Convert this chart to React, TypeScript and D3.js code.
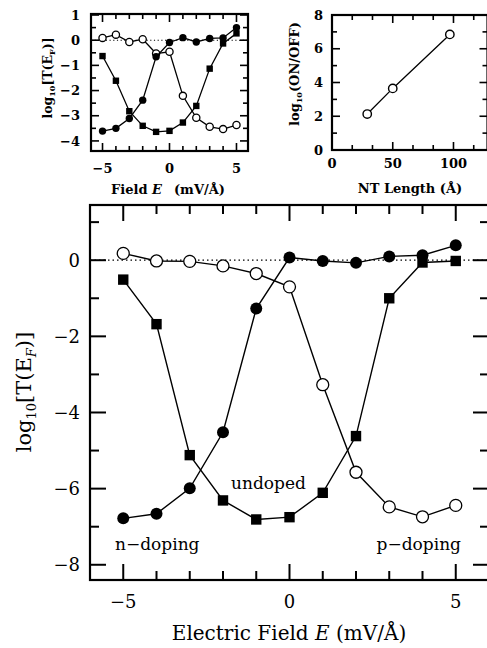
import React from 'react';
import * as d3 from 'd3';

// ---------- data ----------
const fieldE = [-5, -4, -3, -2, -1, 0, 1, 2, 3, 4, 5];
const mainOpen = [0.18, -0.02, -0.03, -0.15, -0.35, -0.7, -3.27, -5.57, -6.48, -6.74, -6.44];
const mainFilledCircle = [-6.78, -6.66, -5.99, -4.52, -1.27, 0.07, -0.02, -0.07, 0.1, 0.13, 0.39];
const mainSquare = [-0.51, -1.68, -5.12, -6.31, -6.81, -6.75, -6.11, -4.62, -1.0, -0.06, -0.02];
const insetOpen = [0.09, 0.22, -0.07, 0.04, -0.53, -0.46, -2.21, -3.08, -3.44, -3.53, -3.37];
const insetFilledCircle = [-3.61, -3.5, -3.11, -2.38, -0.66, -0.09, 0.1, -0.07, 0.07, 0.09, 0.5];
const insetSquare = [-0.63, -1.61, -2.82, -3.4, -3.64, -3.6, -3.27, -2.61, -1.13, -0.13, 0.27];
const ntLength = [29, 50, 97];
const onOff = [2.13, 3.65, 6.85];

const mainXMajor = [-5, 0, 5];
const mainXMinor = [-6, -4, -3, -2, -1, 1, 2, 3, 4, 6];
const mainYMajor = [0, -2, -4, -6, -8];
const mainYMinor = [1, -1, -3, -5, -7];
const insetXMajor = [-5, 0, 5];
const insetXMinor = [-4, -3, -2, -1, 1, 2, 3, 4];
const insetYMajor = [1, 0, -1, -2, -3, -4];
const insetYMinor = [0.5, -0.5, -1.5, -2.5, -3.5];
const ntXMajor = [0, 50, 100];
const ntXMinor = [50 / 3, 100 / 3, 200 / 3, 250 / 3, 350 / 3];
const ntYMajor = [0, 2, 4, 6, 8];
const ntYMinor = [1, 3, 5, 7];

const FONT = '"DejaVu Serif", "Liberation Serif", serif';
const fmt = (v: number) => (v < 0 ? '\u2212' + Math.abs(v) : String(v));

type Sc = d3.ScaleLinear<number, number>;

function Frame(props: {
  x: Sc; y: Sc; xMaj: number[]; xMin: number[]; yMaj: number[]; yMin: number[];
  maj: number; min: number; sw: number; tsw: number;
}) {
  const { x, y, xMaj, xMin, yMaj, yMin, maj, min, sw, tsw } = props;
  const [x0, x1] = x.range();
  const [y0, y1] = y.range();
  const top = Math.min(y0, y1), bot = Math.max(y0, y1);
  const els: React.ReactNode[] = [];
  const addX = (v: number, len: number, k: string) => {
    const px = x(v);
    els.push(<line key={'xb' + k} x1={px} x2={px} y1={bot} y2={bot - len} stroke="#000" strokeWidth={tsw} />);
    els.push(<line key={'xt' + k} x1={px} x2={px} y1={top} y2={top + len} stroke="#000" strokeWidth={tsw} />);
  };
  const addY = (v: number, len: number, k: string) => {
    const py = y(v);
    els.push(<line key={'yl' + k} x1={x0} x2={x0 + len} y1={py} y2={py} stroke="#000" strokeWidth={tsw} />);
    els.push(<line key={'yr' + k} x1={x1} x2={x1 - len} y1={py} y2={py} stroke="#000" strokeWidth={tsw} />);
  };
  xMaj.forEach((v, i) => addX(v, maj, 'M' + i));
  xMin.forEach((v, i) => addX(v, min, 'm' + i));
  yMaj.forEach((v, i) => addY(v, maj, 'M' + i));
  yMin.forEach((v, i) => addY(v, min, 'm' + i));
  return (
    <g>
      {els}
      <rect x={x0} y={top} width={x1 - x0} height={bot - top} fill="none" stroke="#000" strokeWidth={sw} />
    </g>
  );
}

function Series(props: { x: Sc; y: Sc; xs: number[]; ys: number[]; kind: 'open' | 'filled' | 'square'; r: number; lw: number }) {
  const { x, y, xs, ys, kind, r, lw } = props;
  const pts = xs.map((v, i) => [x(v), y(ys[i])] as [number, number]);
  const path = d3.line()(pts) || '';
  return (
    <g>
      <path d={path} fill="none" stroke="#000" strokeWidth={lw} />
      {pts.map(([px, py], i) =>
        kind === 'square' ? (
          <rect key={i} x={px - r} y={py - r} width={2 * r} height={2 * r} fill="#000" />
        ) : (
          <circle key={i} cx={px} cy={py} r={r} fill={kind === 'open' ? '#fff' : '#000'} stroke="#000" strokeWidth={kind === 'open' ? 1.3 : 0} />
        )
      )}
    </g>
  );
}

export default function App() {
  // main plot
  const mx = d3.scaleLinear().domain([-6, 6]).range([90, 489]);
  const my = d3.scaleLinear().domain([1.45, -8.4]).range([205, 580]);
  // inset 1
  const ix = d3.scaleLinear().domain([-5.86, 5.86]).range([91, 248]);
  const iy = d3.scaleLinear().domain([1.04, -4.4]).range([14, 151]);
  // inset 2
  const nx = d3.scaleLinear().domain([0, 128]).range([332, 487.5]);
  const ny = d3.scaleLinear().domain([8, 0]).range([15, 150]);

  const nPts = ntLength.map((v, i) => [nx(v), ny(onOff[i])] as [number, number]);

  return (
    <svg width={487} height={648} style={{ position: 'absolute', left: 0, top: 0, background: '#fff' }} fontFamily={FONT}>
      <rect x={0} y={0} width={487} height={648} fill="#fff" />

      {/* ---------- main plot ---------- */}
      <line x1={mx(-6)} x2={mx(6)} y1={my(0)} y2={my(0)} stroke="#000" strokeWidth={1.3} strokeDasharray="1.5 3" />
      <Series x={mx} y={my} xs={fieldE} ys={mainOpen} kind="open" r={6} lw={1.4} />
      <Series x={mx} y={my} xs={fieldE} ys={mainFilledCircle} kind="filled" r={6} lw={1.4} />
      <Series x={mx} y={my} xs={fieldE} ys={mainSquare} kind="square" r={5.2} lw={1.4} />
      <Frame x={mx} y={my} xMaj={mainXMajor} xMin={mainXMinor} yMaj={mainYMajor} yMin={mainYMinor} maj={16} min={9} sw={2.2} tsw={2} />
      {mainXMajor.map((v) => (
        <text key={'mxl' + v} x={mx(v)} y={608} textAnchor="middle" fontSize={18}>{fmt(v)}</text>
      ))}
      {mainYMajor.map((v) => (
        <text key={'myl' + v} x={80} y={my(v)} dy="0.36em" textAnchor="end" fontSize={18}>{fmt(v)}</text>
      ))}
      <text x={289} y={640} textAnchor="middle" fontSize={20}>
        Electric Field <tspan fontStyle="italic">E</tspan> (mV/Å)
      </text>
      <text transform="translate(31,392) rotate(-90)" textAnchor="middle" fontSize={21}>
        log<tspan fontSize={13} dy={5}>10</tspan><tspan dy={-5}>[T(E</tspan><tspan fontSize={13} dy={5} fontStyle="italic">F</tspan><tspan dy={-5}>)]</tspan>
      </text>
      <text x={115} y={550} fontSize={17}>n−doping</text>
      <text x={231} y={489} fontSize={17}>undoped</text>
      <text x={461} y={550} fontSize={17} textAnchor="end">p−doping</text>

      {/* ---------- inset 1 ---------- */}
      <line x1={ix(-5.86)} x2={ix(5.86)} y1={iy(0)} y2={iy(0)} stroke="#000" strokeWidth={1.1} strokeDasharray="1.2 2.5" />
      <Series x={ix} y={iy} xs={fieldE} ys={insetOpen} kind="open" r={3.6} lw={1.3} />
      <Series x={ix} y={iy} xs={fieldE} ys={insetFilledCircle} kind="filled" r={3.7} lw={1.3} />
      <Series x={ix} y={iy} xs={fieldE} ys={insetSquare} kind="square" r={3.2} lw={1.3} />
      <Frame x={ix} y={iy} xMaj={insetXMajor} xMin={insetXMinor} yMaj={insetYMajor} yMin={insetYMinor} maj={8} min={5} sw={2.2} tsw={1.6} />
      {insetXMajor.map((v) => (
        <text key={'ixl' + v} x={ix(v)} y={173} textAnchor="middle" fontSize={13} fontWeight="bold">{fmt(v)}</text>
      ))}
      {insetYMajor.map((v) => (
        <text key={'iyl' + v} x={80} y={iy(v)} dy="0.36em" textAnchor="end" fontSize={13} fontWeight="bold">{fmt(v)}</text>
      ))}
      <text x={168} y={194} textAnchor="middle" fontSize={13} fontWeight="bold">
        Field <tspan fontStyle="italic">E</tspan><tspan dx={12}>(mV/Å)</tspan>
      </text>
      <text transform="translate(52,78) rotate(-90)" textAnchor="middle" fontSize={12.5} fontWeight="bold">
        log<tspan fontSize={8} dy={3}>10</tspan><tspan dy={-3}>[T(E</tspan><tspan fontSize={8} dy={3}>F</tspan><tspan dy={-3}>)]</tspan>
      </text>

      {/* ---------- inset 2 ---------- */}
      <path d={d3.line()(nPts) || ''} fill="none" stroke="#000" strokeWidth={1.3} />
      {nPts.map(([px, py], i) => (
        <circle key={'np' + i} cx={px} cy={py} r={4.2} fill="#fff" stroke="#000" strokeWidth={1.4} />
      ))}
      <Frame x={nx} y={ny} xMaj={ntXMajor} xMin={ntXMinor} yMaj={ntYMajor} yMin={ntYMinor} maj={8} min={5} sw={2.2} tsw={1.6} />
      {ntXMajor.map((v) => (
        <text key={'nxl' + v} x={nx(v)} y={168} textAnchor="middle" fontSize={13} fontWeight="bold">{fmt(v)}</text>
      ))}
      {ntYMajor.map((v) => (
        <text key={'nyl' + v} x={323} y={ny(v)} dy="0.36em" textAnchor="end" fontSize={13} fontWeight="bold">{fmt(v)}</text>
      ))}
      <text x={410} y={193} textAnchor="middle" fontSize={13} fontWeight="bold">NT Length (Å)</text>
      <text transform="translate(299,74) rotate(-90)" textAnchor="middle" fontSize={13} fontWeight="bold">
        log<tspan fontSize={8} dy={3}>10</tspan><tspan dy={-3}>(ON/OFF)</tspan>
      </text>
    </svg>
  );
}
